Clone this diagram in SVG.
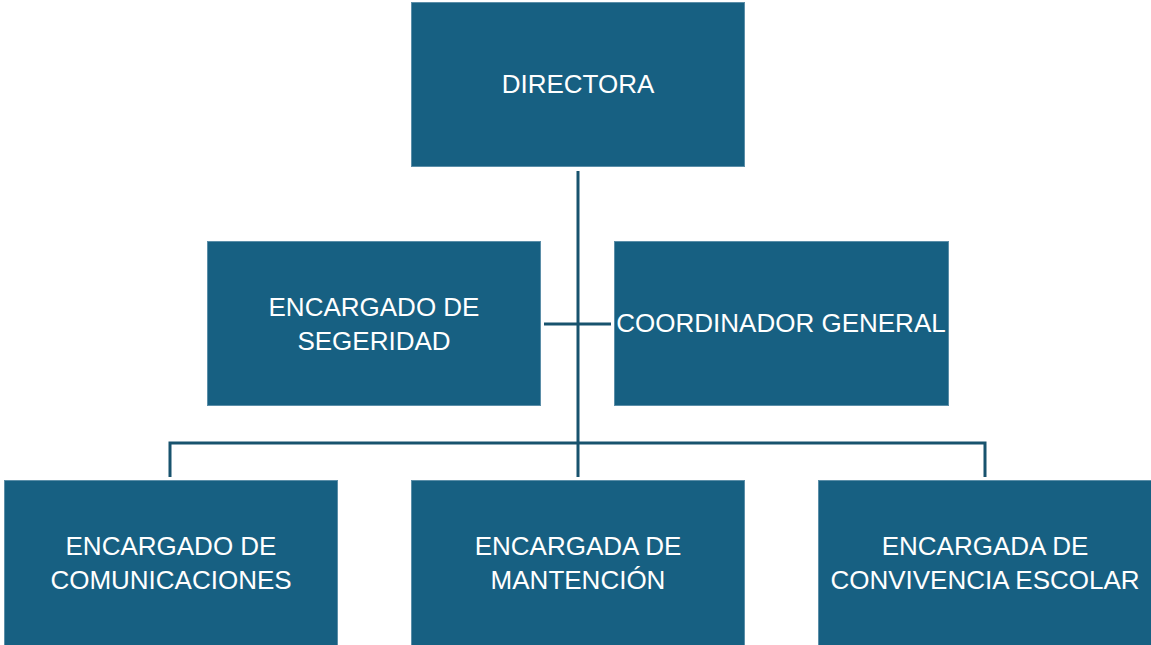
<svg xmlns="http://www.w3.org/2000/svg" width="1151" height="645" viewBox="0 0 1151 645">
<style>
.box{fill:#176082;stroke:#5b8ea8;stroke-width:1}
.t{font-family:"Liberation Sans",Arial,sans-serif;font-size:26px;fill:#ffffff;text-anchor:middle}
.ln{fill:none;stroke:#18536e;stroke-width:3}
</style>
<rect width="1151" height="645" fill="#ffffff"/>
<g id="connectors">
<path class="ln" d="M578 171 V477"/>
<path class="ln" d="M544 324 H611"/>
<path class="ln" d="M170 477 V443 H985 V477"/>
</g>
<g id="directora">
<rect class="box" x="411.5" y="2.5" width="333" height="164"/>
<text class="t" x="578" y="93">DIRECTORA</text>
</g>
<g id="seguridad">
<rect class="box" x="207.5" y="241.5" width="333" height="164"/>
<text class="t" x="374" y="316">ENCARGADO DE</text>
<text class="t" x="374" y="350">SEGERIDAD</text>
</g>
<g id="coordinador">
<rect class="box" x="614.5" y="241.5" width="334" height="164"/>
<text class="t" x="781" y="332">COORDINADOR GENERAL</text>
</g>
<g id="comunicaciones">
<rect class="box" x="4.5" y="480.5" width="333" height="170"/>
<text class="t" x="171" y="555">ENCARGADO DE</text>
<text class="t" x="171" y="589">COMUNICACIONES</text>
</g>
<g id="mantencion">
<rect class="box" x="411.5" y="480.5" width="333" height="170"/>
<text class="t" x="578" y="555">ENCARGADA DE</text>
<text class="t" x="578" y="589">MANTENCIÓN</text>
</g>
<g id="convivencia">
<rect class="box" x="818.5" y="480.5" width="340" height="170"/>
<text class="t" x="985" y="555">ENCARGADA DE</text>
<text class="t" x="985" y="589">CONVIVENCIA ESCOLAR</text>
</g>
</svg>
